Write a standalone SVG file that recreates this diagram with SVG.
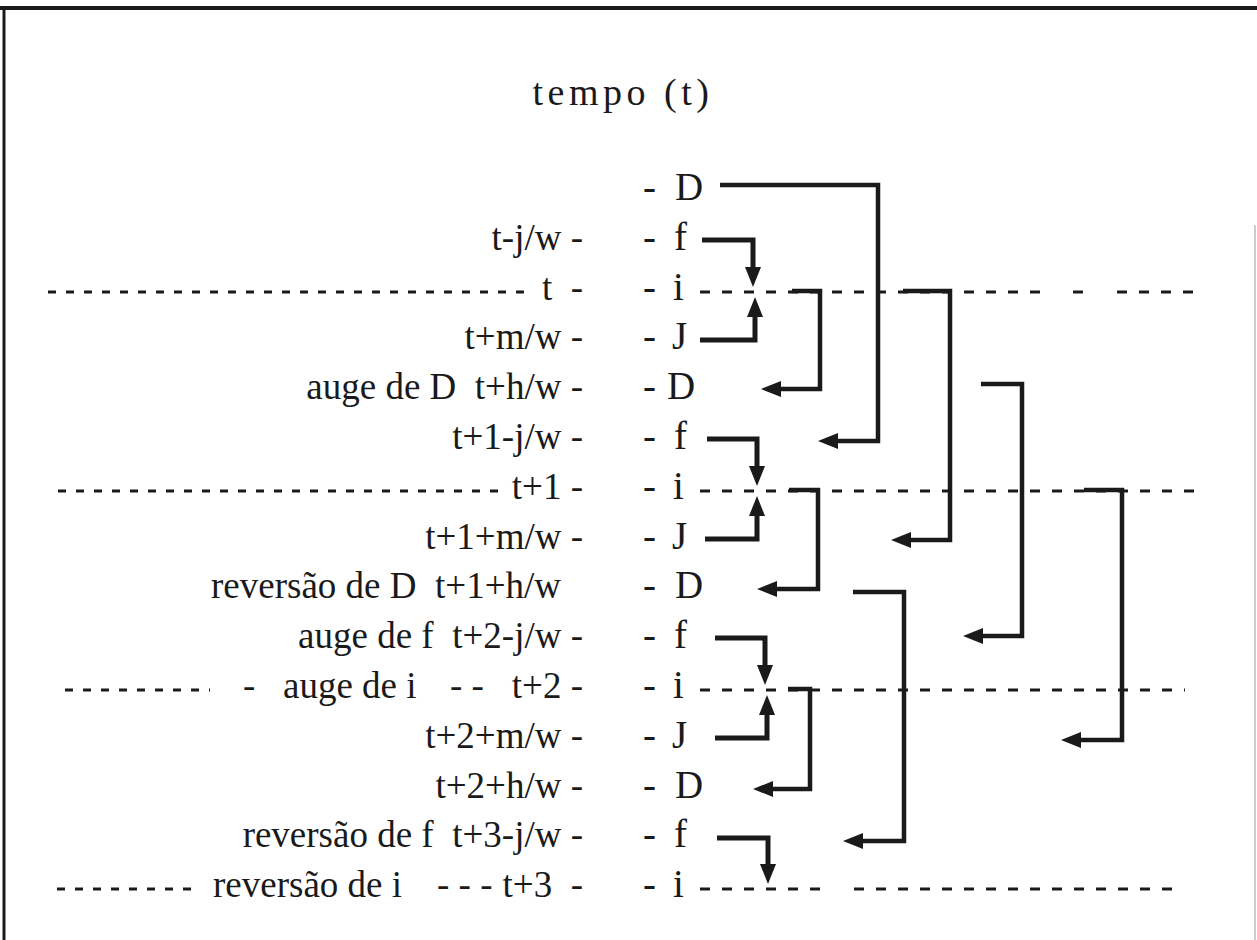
<svg xmlns="http://www.w3.org/2000/svg" width="1257" height="940" viewBox="0 0 1257 940">
<style>
.lbl{font-family:"Liberation Serif",serif;font-size:37px;fill:#1a1a1a;white-space:pre}
.col{font-family:"Liberation Serif",serif;font-size:39px;fill:#1a1a1a;white-space:pre}
.ttl{font-family:"Liberation Serif",serif;font-size:38px;fill:#1a1a1a;letter-spacing:4.5px}
.dl{stroke:#1a1a1a;stroke-width:3;stroke-dasharray:8 10;fill:none}
.dr{stroke:#1a1a1a;stroke-width:3;stroke-dasharray:10 12;fill:none}
.c{stroke:#1a1a1a;stroke-width:5;fill:none;stroke-linejoin:miter}
.cl{stroke:#1a1a1a;stroke-width:4.5;fill:none;stroke-linejoin:miter}
</style>
<defs>
<marker id="ah" markerUnits="userSpaceOnUse" markerWidth="22" markerHeight="18" refX="8" refY="8" orient="auto">
<path d="M0,0 L20,8 L0,16 z" fill="#1a1a1a"/>
</marker>
</defs>
<rect width="1257" height="940" fill="#ffffff"/>
<g id="frame">
<line x1="0" y1="8" x2="1257" y2="8" stroke="#1a1a1a" stroke-width="4"/>
<line x1="4" y1="7" x2="4" y2="940" stroke="#1a1a1a" stroke-width="3"/>
<line x1="1255" y1="225" x2="1255" y2="940" stroke="#bbbbbb" stroke-width="1.5"/>
</g>
<g id="title"><text class="ttl" x="623" y="105" text-anchor="middle">tempo (t)</text></g>

<g id="timelines">
<line class="dl" x1="48" y1="292" x2="530" y2="292"/>
<line class="dr" x1="700" y1="292" x2="1045" y2="292"/>
<line class="dr" x1="1073" y1="292" x2="1083" y2="292"/>
<line class="dr" x1="1117" y1="292" x2="1195" y2="292"/>
<line class="dl" x1="58" y1="491" x2="505" y2="491"/>
<line class="dr" x1="700" y1="491" x2="1195" y2="491"/>
<line class="dl" x1="65" y1="690" x2="210" y2="690"/>
<line class="dr" x1="700" y1="690" x2="1185" y2="690"/>
<line class="dl" x1="57" y1="889" x2="200" y2="889"/>
<line class="dr" x1="700" y1="889" x2="820" y2="889"/>
<line class="dr" x1="854" y1="889" x2="1172" y2="889"/>
</g>

<g id="r1"><text class="col" y="200"><tspan x="643">-</tspan><tspan x="675">D</tspan></text></g>
<g id="r2"><text class="lbl" x="583" y="250" text-anchor="end">t-j/w -</text><text class="col" y="250"><tspan x="643">-</tspan><tspan x="674">f</tspan></text></g>
<g id="r3"><text class="lbl" x="583" y="300" text-anchor="end">t  -</text><text class="col" y="300"><tspan x="643">-</tspan><tspan x="673">i</tspan></text></g>
<g id="r4"><text class="lbl" x="583" y="349" text-anchor="end">t+m/w -</text><text class="col" y="349"><tspan x="643">-</tspan><tspan x="672">J</tspan></text></g>
<g id="r5"><text class="lbl" x="583" y="399" text-anchor="end">auge de D  t+h/w -</text><text class="col" y="399"><tspan x="643">-</tspan><tspan x="667">D</tspan></text></g>
<g id="r6"><text class="lbl" x="583" y="449" text-anchor="end">t+1-j/w -</text><text class="col" y="449"><tspan x="643">-</tspan><tspan x="674">f</tspan></text></g>
<g id="r7"><text class="lbl" x="583" y="499" text-anchor="end">t+1 -</text><text class="col" y="499"><tspan x="643">-</tspan><tspan x="673">i</tspan></text></g>
<g id="r8"><text class="lbl" x="583" y="549" text-anchor="end">t+1+m/w -</text><text class="col" y="549"><tspan x="643">-</tspan><tspan x="672">J</tspan></text></g>
<g id="r9"><text class="lbl" x="561" y="598" text-anchor="end">reversão de D  t+1+h/w</text><text class="col" y="598"><tspan x="643">-</tspan><tspan x="675">D</tspan></text></g>
<g id="r10"><text class="lbl" x="583" y="648" text-anchor="end">auge de f  t+2-j/w -</text><text class="col" y="648"><tspan x="643">-</tspan><tspan x="674">f</tspan></text></g>
<g id="r11"><text class="lbl" y="698"><tspan x="243">-</tspan><tspan x="283">auge de i</tspan><tspan x="450">- -</tspan></text><text class="lbl" x="583" y="698" text-anchor="end">t+2 -</text><text class="col" y="698"><tspan x="643">-</tspan><tspan x="673">i</tspan></text></g>
<g id="r12"><text class="lbl" x="583" y="748" text-anchor="end">t+2+m/w -</text><text class="col" y="748"><tspan x="643">-</tspan><tspan x="672">J</tspan></text></g>
<g id="r13"><text class="lbl" x="583" y="798" text-anchor="end">t+2+h/w -</text><text class="col" y="798"><tspan x="643">-</tspan><tspan x="675">D</tspan></text></g>
<g id="r14"><text class="lbl" x="583" y="847" text-anchor="end">reversão de f  t+3-j/w -</text><text class="col" y="847"><tspan x="643">-</tspan><tspan x="674">f</tspan></text></g>
<g id="r15"><text class="lbl" y="897"><tspan x="213">reversão de i</tspan><tspan x="437">- - -</tspan></text><text class="lbl" x="583" y="897" text-anchor="end">t+3  -</text><text class="col" y="897"><tspan x="643">-</tspan><tspan x="673">i</tspan></text></g>

<g id="connectors">
<path class="c" d="M702,240 H753 V275" marker-end="url(#ah)"/>
<path class="c" d="M700,340 H755 V309" marker-end="url(#ah)"/>
<path class="c" d="M707,439 H757 V474" marker-end="url(#ah)"/>
<path class="c" d="M705,539 H757 V508" marker-end="url(#ah)"/>
<path class="c" d="M715,638 H765 V673" marker-end="url(#ah)"/>
<path class="c" d="M715,738 H767 V707" marker-end="url(#ah)"/>
<path class="c" d="M717,838 H768 V872" marker-end="url(#ah)"/>
<path class="cl" d="M720,185 H878 V441 H830" marker-end="url(#ah)"/>
<path class="cl" d="M792,291 H820 V389 H773" marker-end="url(#ah)"/>
<path class="cl" d="M903,291 H950 V540 H903" marker-end="url(#ah)"/>
<path class="cl" d="M981,384 H1022 V636 H975" marker-end="url(#ah)"/>
<path class="cl" d="M789,490 H818 V589 H769" marker-end="url(#ah)"/>
<path class="cl" d="M1084,490 H1122 V740 H1073" marker-end="url(#ah)"/>
<path class="cl" d="M853,592 H904 V841 H855" marker-end="url(#ah)"/>
<path class="cl" d="M788,689 H810 V789 H765" marker-end="url(#ah)"/>
</g>
</svg>
